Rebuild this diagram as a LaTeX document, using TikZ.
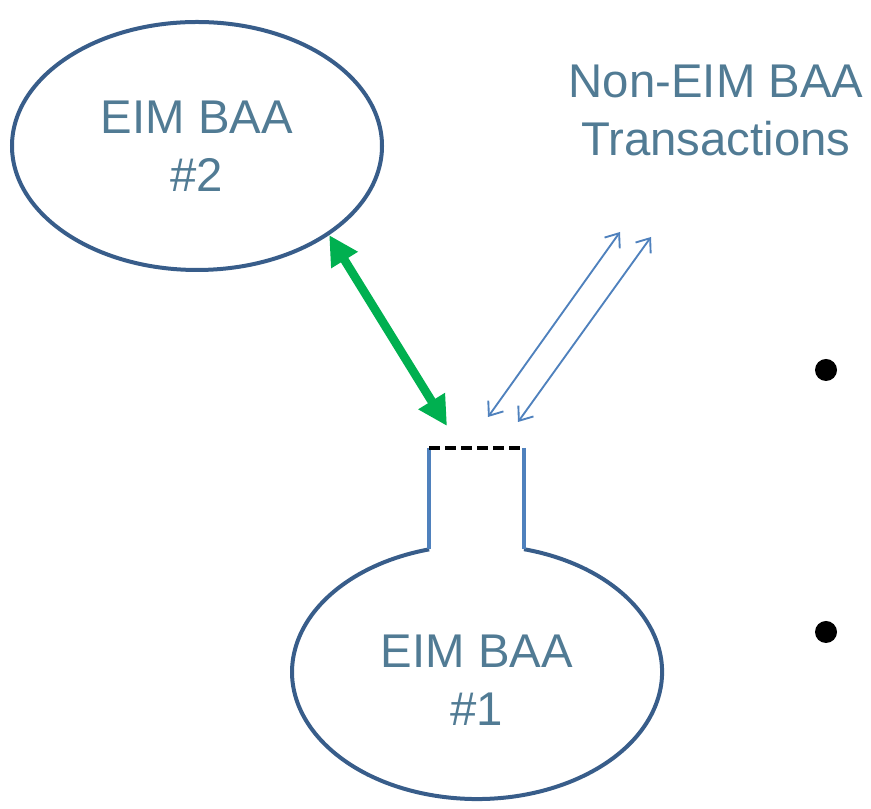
\documentclass[tikz,border=0pt]{standalone}
\usepackage{fontspec}
\setmainfont{Liberation Sans}
\usetikzlibrary{shapes.geometric,arrows.meta}
\definecolor{baaline}{HTML}{385D8A}
\definecolor{baaneck}{HTML}{4F81BD}
\definecolor{baatext}{HTML}{517B94}
\definecolor{baagreen}{HTML}{00B050}
\begin{document}
\begin{tikzpicture}[x=0.75pt,y=0.75pt,
  outline/.style={draw=#1,line width=3pt},
  label/.style={text=baatext,align=center,font=\fontsize{35.5}{43.5}\selectfont},
  flow/.style={draw=baaneck,line width=1.4pt,{Straight Barb[length=9pt,width=14pt]}-{Straight Barb[length=9pt,width=14pt]}}]
\useasboundingbox (0,0) rectangle (871,809);
% BAA #2
\node[ellipse,outline=baaline,inner sep=0pt,minimum width=277.5pt,minimum height=186pt,label] (baa2) at (197,663) {EIM BAA\\\#2};
% BAA #1 with its neck
\coordinate (neckL) at (429,361);
\coordinate (neckR) at (524,361);
\draw[outline=baaline] (524,259.8) arc[start angle=75.3,end angle=-255,x radius=185,y radius=127];
\draw[outline=baaneck] (neckL) -- (429,260);
\draw[outline=baaneck] (neckR) -- (524,260);
\draw[black,line width=3pt,dash pattern=on 8pt off 4pt] (neckL) -- (neckR);
\node[label] (baa1) at (477,129) {EIM BAA\\\#1};
% other transactions
\node[label] (other) at (716,699) {Non-EIM BAA\\Transactions};
\coordinate (gtip) at (447,383);
\draw[baagreen,line width=6.5pt,{Triangle[length=22pt,width=22pt]}-{Triangle[length=22pt,width=22pt]}] (baa2.-34) -- (gtip);
\coordinate (a1) at (488,392);
\coordinate (b1) at (620,577);
\coordinate (a2) at (518,387);
\coordinate (b2) at (651,572);
\draw[flow] (a1) -- (b1);
\draw[flow] (a2) -- (b2);
% bullets
\fill[black] (826,439) circle (11);
\fill[black] (826,177) circle (11);
\end{tikzpicture}
\end{document}
